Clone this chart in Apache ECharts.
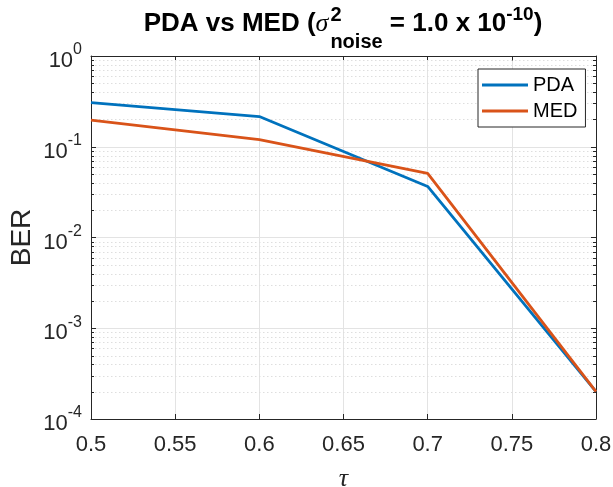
<!DOCTYPE html>
<html>
<head>
<meta charset="utf-8">
<script src="https://cdn.jsdelivr.net/npm/echarts@6/dist/echarts.min.js"></script>
<style>
html,body{margin:0;padding:0;background:#fff;}
#chart{width:613px;height:487px;}
</style>
</head>
<body>
<div id="chart"></div>
<script>
// ---- data ----
const tau = [0.5, 0.6, 0.7, 0.8];
const pdaBER = [0.307, 0.215, 0.0365, 2.0e-4];
const medBER = [0.197, 0.120, 0.051, 2.0e-4];
const seriesNames = ['PDA', 'MED'];
const xMin = 0.5, xMax = 0.8, xStep = 0.05;
const yDecades = [-4, -3, -2, -1, 0];
const yLabelBase = '10';

// minor tick positions on the log axis (2..9 x each decade)
const minorVals = [];
for (let d = 0; d < yDecades.length - 1; d++) {
  for (let k = 2; k <= 9; k++) minorVals.push(k * Math.pow(10, yDecades[d]));
}

const FONT = '"Liberation Sans", Arial, sans-serif';
const AX = '#262626';
const chart = echarts.init(document.getElementById('chart'), null, {renderer: 'canvas'});

// ---- title layout (measured pieces) ----
const ctx = document.createElement('canvas').getContext('2d');
function w(text, font) { ctx.font = font; return ctx.measureText(text).width; }
const fMain = 'bold 26px ' + FONT;
const fSig = 'italic 26px "Liberation Serif", serif';
const fSub = 'bold 20px ' + FONT;
const fSup = 'bold 19px ' + FONT;
const pieces = [
  {t: 'PDA vs MED (', f: fMain, y: 37},
  {t: '\u03C3', f: fSig, y: 37, gap: 2},
  {stack: true},
  {t: ' = 1.0 x 10', f: fMain, y: 37},
  {t: '-10', f: fSup, y: 24},
  {t: ')', f: fMain, y: 37}
];
let total = 0;
const widths = pieces.map(p => {
  let ww;
  if (p.stack) ww = Math.max(w('2', fSub), w('noise', fSub));
  else ww = w(p.t, p.f) + (p.gap || 0);
  total += ww;
  return ww;
});
const titleCenter = 343;
let cx = titleCenter - total / 2;
const titleEls = [];
pieces.forEach((p, i) => {
  if (p.stack) {
    titleEls.push({type: 'text', x: cx, y: 25.5, style: {text: '2', font: fSub, fill: '#000', verticalAlign: 'bottom'}});
    titleEls.push({type: 'text', x: cx, y: 52, style: {text: 'noise', font: fSub, fill: '#000', verticalAlign: 'bottom'}});
  } else {
    titleEls.push({type: 'text', x: cx, y: p.y, style: {text: p.t, font: p.f, fill: '#000', verticalAlign: 'bottom'}});
  }
  cx += widths[i];
});

function fmtX(v) { return String(Number(v.toFixed(2))); }

const option = {
  animation: false,
  backgroundColor: '#fff',
  grid: {left: 91, right: 17, top: 56, bottom: 68, containLabel: false, outerBoundsMode: 'none'},
  legend: {
    data: seriesNames,
    orient: 'vertical',
    left: 478, top: 69,
    padding: [6, 8, 6, 4],
    itemWidth: 46, itemHeight: 3, itemGap: 6,
    icon: 'rect',
    backgroundColor: '#fff',
    borderColor: AX, borderWidth: 1,
    textStyle: {fontFamily: FONT, fontSize: 20, color: '#000', lineHeight: 20, padding: [0, 0, 0, 0]}
  },
  xAxis: [{
    type: 'value', position: 'bottom', min: xMin, max: xMax, interval: xStep,
    name: '\u03C4', nameLocation: 'middle', nameGap: 47, nameMoveOverlap: false,
    nameTextStyle: {fontFamily: '"Liberation Serif", serif', fontStyle: 'italic', fontSize: 26, color: AX},
    axisLine: {show: true, lineStyle: {color: AX, width: 1}},
    axisTick: {show: true, inside: true, length: 5, lineStyle: {color: AX}},
    axisLabel: {fontFamily: FONT, fontSize: 22, color: AX, margin: 15, formatter: fmtX},
    splitLine: {show: true, lineStyle: {color: '#e3e3e3', width: 1}}
  }, {
    type: 'value', position: 'top', min: xMin, max: xMax, interval: xStep,
    axisLine: {show: true, lineStyle: {color: AX, width: 1}},
    axisTick: {show: true, inside: true, length: 5, lineStyle: {color: AX}},
    axisLabel: {show: false}, splitLine: {show: false}
  }],
  yAxis: [{
    type: 'log', logBase: 10, position: 'left', min: Math.pow(10, yDecades[0]), max: Math.pow(10, yDecades[yDecades.length - 1]),
    name: 'BER', nameLocation: 'middle', nameGap: 55, nameRotate: 90, nameMoveOverlap: false,
    nameTextStyle: {fontFamily: FONT, fontSize: 28, color: AX},
    axisLine: {show: true, lineStyle: {color: AX, width: 1}},
    axisTick: {show: true, inside: true, length: 5, lineStyle: {color: AX}},
    axisLabel: {
      margin: 9, color: AX, padding: [8, 0, 0, 0],
      formatter: v => '{b|' + yLabelBase + '}{s|' + Math.round(Math.log10(v)) + '}',
      rich: {
        b: {fontFamily: FONT, fontSize: 22, lineHeight: 24, color: AX, verticalAlign: 'bottom'},
        s: {fontFamily: FONT, fontSize: 16, lineHeight: 16, color: AX, verticalAlign: 'bottom', padding: [0, 0, 14, 0]}
      }
    },
    splitLine: {show: true, lineStyle: {color: '#e3e3e3', width: 1}}
  }, {
    type: 'log', logBase: 10, position: 'right', min: Math.pow(10, yDecades[0]), max: Math.pow(10, yDecades[yDecades.length - 1]),
    axisLine: {show: true, lineStyle: {color: AX, width: 1}},
    axisTick: {show: true, inside: true, length: 5, lineStyle: {color: AX}},
    axisLabel: {show: false}, splitLine: {show: false}
  }],
  graphic: titleEls,
  series: [{
    type: 'custom', name: 'minor', silent: true, z: 1,
    xAxisIndex: 0, yAxisIndex: 0,
    data: minorVals.map(v => [xMin, v]),
    encode: {x: 0, y: 1},
    renderItem: function (params, api) {
      const v = api.value(1);
      const p1 = api.coord([xMin, v]);
      const p2 = api.coord([xMax, v]);
      const y = Math.round(p1[1]) + 0.5;
      return {type: 'group', children: [
        {type: 'line', shape: {x1: p1[0], y1: y, x2: p2[0], y2: y}, style: {stroke: '#dedede', lineWidth: 1, lineDash: [1.5, 2.5]}},
        {type: 'line', shape: {x1: p1[0], y1: y, x2: p1[0] + 3, y2: y}, style: {stroke: AX, lineWidth: 1}},
        {type: 'line', shape: {x1: p2[0] - 3, y1: y, x2: p2[0], y2: y}, style: {stroke: AX, lineWidth: 1}}
      ]};
    }
  }, {
    type: 'line', name: seriesNames[0], data: tau.map((t, i) => [t, pdaBER[i]]),
    showSymbol: false, symbol: 'none', z: 5,
    itemStyle: {color: '#0072BD'},
    lineStyle: {color: '#0072BD', width: 2.8}
  }, {
    type: 'line', name: seriesNames[1], data: tau.map((t, i) => [t, medBER[i]]),
    showSymbol: false, symbol: 'none', z: 5,
    itemStyle: {color: '#D95319'},
    lineStyle: {color: '#D95319', width: 2.8}
  }]
};
chart.setOption(option);
</script>
</body>
</html>
